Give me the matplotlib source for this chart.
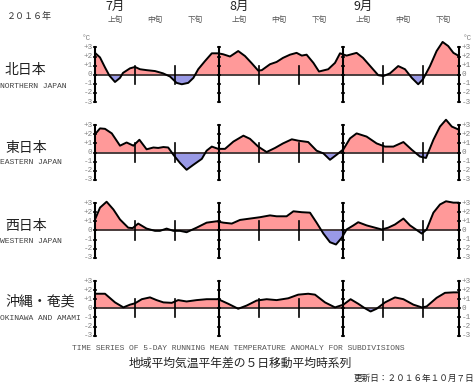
import matplotlib
matplotlib.use("Agg")
import matplotlib.pyplot as plt
import numpy as np

# day index: 0 = 1 July, 31 = 1 Aug, 62 = 1 Sep, 91 = end of Sep
north_days = [0, 1.25, 2.5, 3.6, 5, 6.25, 7, 8.75, 10, 11.25, 12.9, 15, 17, 18.75,
              20.4, 21.7, 23.3, 24.6, 25.8, 27.5, 29.2, 30.8, 32, 33.75, 35.8, 37.5,
              39.2, 40.8, 41.7, 43.75, 45.4, 47, 48.75, 50.4, 51.7, 52.9, 54.6, 56,
              58.3, 60, 61.25, 62.9, 65.4, 67, 69.2, 70.8, 72.1, 73.75, 75.8, 77.5,
              79.2, 80.8, 82, 83.75, 85.4, 86.9, 88.3, 89.6, 91]
north_vals = [2.4, 1.9, 0.8, -0.1, -0.8, -0.35, 0.2, 0.7, 0.85, 0.6, 0.5, 0.4, 0.15, -0.2,
              -0.9, -1.05, -0.9, -0.35, 0.6, 1.5, 2.35, 2.35, 2.25, 2.0, 2.6, 2.05,
              1.25, 0.45, 0.5, 1.15, 1.4, 1.85, 2.2, 2.4, 2.1, 2.2, 1.3, 0.35,
              0.6, 1.3, 2.35, 2.1, 2.4, 1.85, 0.75, -0.05, -0.15, 0.15, 0.95, 0.6,
              -0.35, -1.05, -0.5, 0.95, 2.6, 3.6, 3.15, 2.4, 2.05]

east_days = [0, 1.25, 2.5, 4.2, 6.25, 7.9, 9.6, 11.1, 12.9, 14.6, 15.8, 17.1, 18.3,
             19.6, 21.25, 22.9, 24.6, 26.7, 27.9, 29.2, 30.8, 32.5, 34.6, 37.1, 38.75,
             40.8, 42.9, 45, 47, 49.2, 50.8, 53.3, 55.4, 57.1, 58.75, 60.4, 62.1,
             63.75, 65.4, 67.9, 70.4, 72.5, 74.6, 77.1, 79.2, 81.25, 82.75, 84.6,
             86.25, 87.75, 89.2, 91]
east_vals = [2.0, 2.65, 2.6, 2.1, 0.75, 1.1, 0.75, 1.4, 0.35, 0.55, 0.5, 0.6, 0.55,
             -0.25, -1.15, -1.9, -1.35, -0.7, 0.2, 0.65, 0.4, 0.4, 1.2, 1.85, 1.5,
             0.65, 0.05, 0.5, 1.0, 1.45, 1.3, 1.15, 0.2, -0.1, -0.8, -0.25, 0.35,
             1.55, 2.1, 1.75, 1.0, 0.65, 0.65, 1.15, 0.3, -0.45, -0.6, 1.4,
             2.85, 3.6, 2.85, 2.5]

west_days = [0, 1.25, 2.9, 4.6, 6.25, 8.3, 9.4, 10.8, 12.9, 15, 16.25, 17.9, 19.6,
             21.25, 22.9, 25.4, 27.9, 30.4, 32.1, 34.2, 36.25, 38.75, 41.25, 43.75,
             45.4, 47.9, 49.6, 51.7, 53.75, 55.4, 57.1, 58.75, 60.25, 61.7, 62.9,
             64.6, 65.8, 67.9, 70, 71.7, 73.3, 75, 77.1, 78.75, 80.4, 81.7, 82.9,
             84.6, 86.25, 87.75, 89.6, 91]
west_vals = [1.2, 2.5, 3.15, 2.3, 1.2, 0.3, 0.25, 0.75, 0.2, -0.05, -0.05, 0.2, -0.05,
             -0.05, -0.2, 0.3, 0.85, 1.0, 0.85, 0.75, 1.15, 1.3, 1.45, 1.65,
             1.55, 1.55, 2.1, 2.0, 1.95, 0.85, -0.35, -1.3, -1.55, -0.8, 0.1,
             0.55, 0.9, 0.55, 0.3, 0.1, 0.3, 0.65, 1.3, 0.55, 0.05, -0.35, 0.1,
             1.95, 2.85, 3.2, 3.05, 3.05]

oki_days = [0, 2.5, 5, 7.1, 8.75, 10, 11.7, 13.75, 15.4, 17.1, 19.2, 20.8, 22.9,
            25.4, 27.9, 30.8, 33.3, 35.8, 37.9, 40.4, 42.9, 45.4, 48.3, 50.8, 53.3,
            55, 57.5, 60, 62.1, 63.9, 65.8, 67.5, 68.9, 70.4, 72.5, 75, 77.1, 79.6,
            81.7, 82.9, 85.4, 87.5, 89.6, 91]
oki_vals = [1.6, 1.6, 0.65, 0.1, 0.4, 0.55, 1.0, 1.2, 0.9, 0.65, 0.6, 0.9, 0.75,
            0.9, 1.0, 1.0, 0.5, -0.05, 0.3, 0.85, 1.0, 0.9, 1.1, 1.5, 1.6,
            1.5, 0.65, 0.1, 0.4, 1.0, 0.5, 0.0, -0.35, -0.05, 0.65, 1.2, 1.0, 0.4,
            0.1, 0.2, 1.15, 1.7, 1.75, 1.75]

names_jp = ["北日本", "東日本", "西日本", "沖縄・奄美"]
names_en = ["NORTHERN JAPAN", "EASTERN JAPAN", "WESTERN JAPAN", "OKINAWA AND AMAMI"]
months = ["7月", "8月", "9月"]
month_start = [0, 31, 62]
dekads = ["上旬", "中旬", "下旬"]
tick_vals = [3, 2, 1, 0, -1, -2, -3]
tick_text = ["+3", "+2", "+1", "0", "-1", "-2", "-3"]

series = [(north_days, north_vals), (east_days, east_vals),
          (west_days, west_vals), (oki_days, oki_vals)]

JP = "Noto Sans CJK JP"
MONO = "Liberation Mono"
RED = "#ff9999"
BLUE = "#9999e6"

W, H = 476, 382
fig = plt.figure(figsize=(4.76, 3.82), dpi=100)

def fx(px):
    return px / W

def fy(py):
    return 1 - py / H

X0 = 95
PXD = 4.0      # pixels per day
D_END = 91
PPD = 9.1      # pixels per degree
YLO, YHI = -3.4, 4.0
zero_px = [74.7, 152.5, 230.4, 308.3]

for i, (days, vals) in enumerate(series):
    z = zero_px[i]
    ax = fig.add_axes([fx(X0), fy(z - YLO * PPD), D_END * PXD / W, (YHI - YLO) * PPD / H])
    ax.set_xlim(0, D_END)
    ax.set_ylim(YLO, YHI)
    ax.axis("off")

    d = np.array(days)
    v = np.array(vals)
    ax.fill_between(d, v, 0, where=v >= 0, interpolate=True, color=RED, lw=0)
    ax.fill_between(d, v, 0, where=v <= 0, interpolate=True, color=BLUE, lw=0)
    ax.plot([0, D_END], [0, 0], color="#3a3030", lw=1.3)
    ax.plot(d, v, color="black", lw=1.4, solid_joinstyle="round")

    # month axes with degree ticks
    for xm in [0, 31, 62, D_END]:
        ax.plot([xm, xm], [-3, 3], color="black", lw=1.5, clip_on=False)
        ax.hlines(tick_vals, xm - 0.6, xm + 0.6, color="black", lw=1.1, clip_on=False)
    # dekad marks
    for xd in [10, 20, 41, 51, 72, 82]:
        ax.plot([xd, xd], [-1, 1], color="black", lw=1.2)

    for tv, tt in zip(tick_vals, tick_text):
        ax.text(-0.6, tv, tt, ha="right", va="center", fontsize=5.5,
                family=MONO, color="#808080", clip_on=False)
        ax.text(D_END + 0.6, tv, tt, ha="left", va="center", fontsize=5.5,
                family=MONO, color="#808080", clip_on=False)
    if i == 0:
        ax.text(-2.2, 4.0, "°C", ha="center", va="center", fontsize=5.5,
                family=MONO, color="#808080", clip_on=False)
        ax.text(D_END + 2.0, 4.0, "°C", ha="center", va="center", fontsize=5.5,
                family=MONO, color="#808080", clip_on=False)

# region names
jp_y = [70, 148, 226, 302]
en_y = [86, 163, 242, 319]
for i in range(4):
    fig.text(fx(5), fy(jp_y[i]), names_jp[i], ha="left", va="center",
             fontsize=10, family=JP, color="#222222")
    fig.text(fx(0), fy(en_y[i]), names_en[i], ha="left", va="center",
             fontsize=5.8, family=MONO, color="#444444")

# month / dekad headers
fig.text(fx(29), fy(17), "２０１６年", ha="center", va="center",
         fontsize=6.5, family=JP, color="#333333")
for m, ms in zip(months, month_start):
    fig.text(fx(X0 + (ms + 5) * PXD), fy(6), m, ha="center", va="center",
             fontsize=9, family=JP, color="#222222")
    for k, dk in enumerate(dekads):
        fig.text(fx(X0 + (ms + 5 + 10 * k) * PXD), fy(20), dk, ha="center",
                 va="center", fontsize=5.5, family=JP, color="#555555")

# bottom titles
fig.text(fx(238), fy(348), "TIME SERIES OF 5-DAY RUNNING MEAN TEMPERATURE ANOMALY FOR SUBDIVISIONS",
         ha="center", va="center", fontsize=5.8, family=MONO, color="#555555")
fig.text(fx(240), fy(363), "地域平均気温平年差の５日移動平均時系列", ha="center",
         va="center", fontsize=8.5, family=JP, color="#222222")
fig.text(fx(474), fy(378), "更新日：２０１６年１０月７日", ha="right", va="center",
         fontsize=6.2, family=JP, color="#222222")

fig.savefig("out.png", dpi=100)
